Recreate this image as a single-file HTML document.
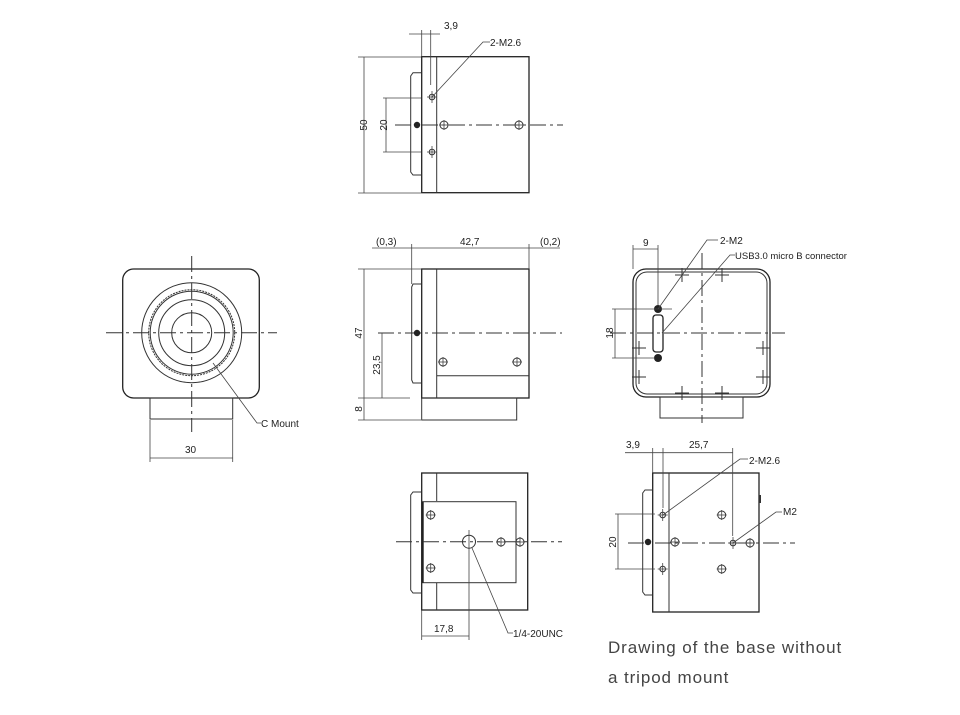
<!DOCTYPE html>
<html><head><meta charset="utf-8"><style>
html,body{margin:0;padding:0;background:#fff;width:960px;height:715px;overflow:hidden}
svg{display:block}
text{font-family:"Liberation Sans",sans-serif;font-size:10px;fill:#222}
.l{stroke:#333;stroke-width:1;fill:none}
.t{stroke:#222;stroke-width:1.3;fill:none}
.c{stroke:#333;stroke-width:1;fill:none;stroke-dasharray:16,4,3,4}
.d{stroke:#444;stroke-width:0.8;fill:none}
</style></head><body>
<svg width="960" height="715" viewBox="0 0 960 715">
<defs>
<g id="h"><circle r="4" class="l"/><line x1="-5" y1="0" x2="5" y2="0" class="d"/><line x1="0" y1="-5" x2="0" y2="5" class="d"/></g>
<g id="hs"><circle r="2.8" class="l"/><line x1="-5" y1="0" x2="5" y2="0" class="d"/><line x1="0" y1="-6" x2="0" y2="6" class="d"/></g>
<g id="x"><line x1="-7" y1="0" x2="7" y2="0" class="l"/><line x1="0" y1="-7" x2="0" y2="7" class="l"/></g>
</defs>

<!-- TOP VIEW -->
<rect x="421.7" y="56.7" width="107.3" height="136" class="t"/>
<line x1="436.7" y1="56.7" x2="436.7" y2="192.7" class="l"/>
<path d="M421.7 72.7 H413 L410.7 76 V172 L413 175 H421.7" class="l"/>
<line x1="395" y1="125" x2="563" y2="125" class="c"/>
<line x1="364" y1="57" x2="364" y2="193" class="d"/>
<line x1="358" y1="57" x2="421" y2="57" class="d"/><line x1="358" y1="193" x2="421" y2="193" class="d"/>
<text transform="translate(367 125) rotate(-90)" text-anchor="middle">50</text>
<line x1="386" y1="98" x2="386" y2="152" class="d"/>
<line x1="383" y1="98" x2="421" y2="98" class="d"/><line x1="383" y1="152" x2="421" y2="152" class="d"/>
<text transform="translate(387 125) rotate(-90)" text-anchor="middle">20</text>
<line x1="409" y1="34" x2="440" y2="34" class="d"/>
<line x1="421.7" y1="30" x2="421.7" y2="56" class="d"/><line x1="430.7" y1="30" x2="430.7" y2="85" class="d"/>
<text x="444" y="29">3,9</text>
<use href="#hs" x="432" y="97"/><use href="#hs" x="432" y="152"/>
<circle cx="417" cy="125" r="3.2" fill="#222"/>
<use href="#h" x="444" y="125"/><use href="#h" x="519" y="125"/>
<polyline points="432,97 483,42 490,42" class="d"/>
<text x="490" y="46">2-M2.6</text>

<!-- SIDE VIEW -->
<rect x="421.7" y="269" width="107.3" height="129" class="t"/>
<line x1="436.7" y1="269" x2="436.7" y2="398" class="l"/>
<line x1="436.7" y1="375.7" x2="529" y2="375.7" class="l"/>
<rect x="421.7" y="398" width="95" height="22" class="l"/>
<path d="M421.7 284 H413 L411.7 287 V380 L413 383 H421.7" class="l"/>
<line x1="378" y1="333" x2="562" y2="333" class="c"/>
<line x1="372" y1="248" x2="560" y2="248" class="d"/>
<line x1="411.7" y1="244" x2="411.7" y2="284" class="d"/><line x1="529" y1="244" x2="529" y2="269" class="d"/>
<text x="376" y="245">(0,3)</text><text x="460" y="245">42,7</text><text x="540" y="245">(0,2)</text>
<line x1="364" y1="269" x2="364" y2="420" class="d"/>
<line x1="358" y1="269" x2="421" y2="269" class="d"/><line x1="358" y1="398" x2="410" y2="398" class="d"/><line x1="358" y1="420" x2="421" y2="420" class="d"/>
<text transform="translate(362 333) rotate(-90)" text-anchor="middle">47</text>
<text transform="translate(362 409) rotate(-90)" text-anchor="middle">8</text>
<line x1="382" y1="333" x2="382" y2="398" class="d"/>
<text transform="translate(380 365) rotate(-90)" text-anchor="middle">23,5</text>
<circle cx="417" cy="333" r="3.2" fill="#222"/>
<use href="#h" x="443" y="362"/><use href="#h" x="517" y="362"/>

<!-- FRONT VIEW -->
<rect x="122.7" y="269" width="136.6" height="129" rx="11" class="t"/>
<rect x="150" y="398" width="82.7" height="21" class="l"/>
<line x1="106" y1="332.7" x2="277" y2="332.7" class="c"/>
<line x1="191.7" y1="256" x2="191.7" y2="432" class="c"/>
<circle cx="191.7" cy="332.7" r="50" class="l"/>
<circle cx="191.7" cy="332.7" r="43" class="l" stroke-dasharray="2,1"/>
<circle cx="191.7" cy="332.7" r="41.5" class="l"/>
<circle cx="191.7" cy="332.7" r="33" class="l"/>
<circle cx="191.7" cy="332.7" r="20" class="l"/>
<polyline points="213,363 257,423 261,423" class="d"/>
<text x="261" y="427">C Mount</text>
<line x1="150" y1="458" x2="232.7" y2="458" class="d"/>
<line x1="150" y1="420" x2="150" y2="462" class="d"/><line x1="232.7" y1="420" x2="232.7" y2="462" class="d"/>
<text x="185" y="453">30</text>

<!-- BACK VIEW -->
<rect x="633" y="269" width="137" height="128" rx="13" class="t"/>
<rect x="636" y="272" width="131" height="122" rx="11" class="l"/>
<rect x="660" y="397" width="83" height="21" class="l"/>
<line x1="610" y1="333" x2="785" y2="333" class="c"/>
<line x1="702" y1="253" x2="702" y2="423" class="c"/>
<use href="#x" x="682" y="275"/><use href="#x" x="722" y="275"/>
<use href="#x" x="639" y="348"/><use href="#x" x="763" y="348"/>
<use href="#x" x="639" y="377"/><use href="#x" x="763" y="377"/>
<use href="#x" x="682" y="393"/><use href="#x" x="722" y="393"/>
<circle cx="658" cy="309" r="4" fill="#222"/><circle cx="658" cy="358" r="4" fill="#222"/>
<rect x="653" y="315" width="10" height="37" rx="3" class="t"/>
<line x1="633" y1="249" x2="658" y2="249" class="d"/>
<line x1="633" y1="245" x2="633" y2="269" class="d"/><line x1="658" y1="245" x2="658" y2="305" class="d"/>
<text x="643" y="246">9</text>
<line x1="615" y1="309" x2="615" y2="358" class="d"/>
<line x1="612" y1="309" x2="672" y2="309" class="d"/><line x1="612" y1="358" x2="655" y2="358" class="d"/>
<text transform="translate(613 333) rotate(-90)" text-anchor="middle">18</text>
<polyline points="658,309 707,240 718,240" class="d"/>
<text x="720" y="244">2-M2</text>
<polyline points="662,333 730,255 735,255" class="d"/>
<text x="735" y="259" style="font-size:9.5px">USB3.0 micro B connector</text>

<!-- BOTTOM-RIGHT VIEW -->
<rect x="652.7" y="473" width="106.3" height="139" class="t"/>
<line x1="669" y1="473" x2="669" y2="612" class="l"/>
<path d="M652.7 490 H645 L642.7 493 V592 L645 595 H652.7" class="l"/>
<rect x="759" y="495" width="2" height="8" fill="#333"/>
<line x1="628" y1="543" x2="795" y2="543" class="c"/>
<use href="#hs" x="662.7" y="515"/><use href="#hs" x="662.7" y="569"/>
<circle cx="648" cy="542" r="3.2" fill="#222"/>
<use href="#h" x="675" y="542"/><use href="#h" x="721.7" y="515"/><use href="#h" x="721.7" y="569"/>
<use href="#hs" x="733" y="543"/><use href="#h" x="750" y="543"/>
<line x1="625" y1="452.7" x2="733" y2="452.7" class="d"/>
<line x1="652.7" y1="448" x2="652.7" y2="473" class="d"/><line x1="663" y1="448" x2="663" y2="508" class="d"/><line x1="732.7" y1="448" x2="732.7" y2="536" class="d"/>
<text x="626" y="448">3,9</text><text x="689" y="448">25,7</text>
<line x1="618" y1="514" x2="618" y2="569" class="d"/>
<line x1="615" y1="514" x2="655" y2="514" class="d"/><line x1="615" y1="569" x2="655" y2="569" class="d"/>
<text transform="translate(616 542) rotate(-90)" text-anchor="middle">20</text>
<polyline points="663,515 740,459 748,459" class="d"/>
<text x="749" y="464">2-M2.6</text>
<polyline points="733,543 776,512 782,512" class="d"/>
<text x="783" y="515">M2</text>

<!-- BOTTOM VIEW -->
<rect x="421.7" y="473" width="106" height="137" class="t"/>
<line x1="436.7" y1="473" x2="436.7" y2="501" class="l"/><line x1="436.7" y1="583" x2="436.7" y2="610" class="l"/>
<path d="M421.7 492 H413 L410.7 495 V590 L413 593 H421.7" class="l"/>
<rect x="421.7" y="501.7" width="94.3" height="81" class="l"/>
<line x1="422.7" y1="501.7" x2="422.7" y2="582.7" stroke="#222" stroke-width="2"/>
<line x1="396" y1="541.7" x2="562" y2="541.7" class="c"/>
<line x1="469" y1="530" x2="469" y2="640" class="d"/>
<use href="#h" x="430.7" y="515"/><use href="#h" x="430.7" y="568"/>
<circle cx="469" cy="541.7" r="6.5" class="l"/>
<use href="#h" x="501" y="542"/><use href="#h" x="520" y="542"/>
<line x1="421.7" y1="636" x2="469" y2="636" class="d"/>
<line x1="421.7" y1="610" x2="421.7" y2="640" class="d"/>
<text x="434" y="632">17,8</text>
<polyline points="472,548 508,633 513,633" class="d"/>
<text x="513" y="637">1/4-20UNC</text>

<text x="608" y="653" style="font-size:17px;fill:#444;letter-spacing:0.9px">Drawing of the base without</text>
<text x="608" y="683" style="font-size:17px;fill:#444;letter-spacing:0.9px">a tripod mount</text>
</svg>
</body></html>
